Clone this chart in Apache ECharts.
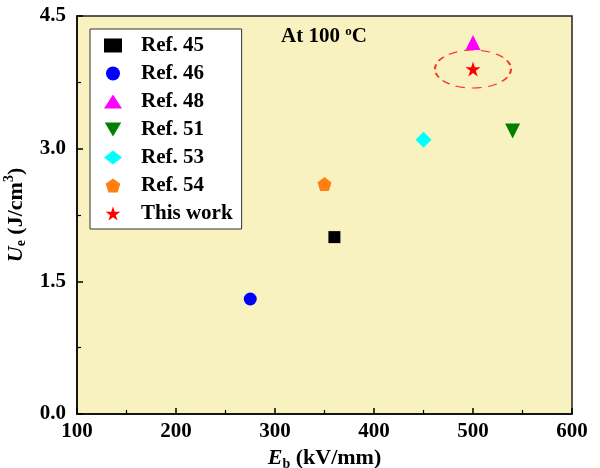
<!DOCTYPE html>
<html>
<head>
<meta charset="utf-8">
<script src="https://cdn.jsdelivr.net/npm/echarts@6/dist/echarts.min.js"></script>
<style>
  html, body { margin: 0; padding: 0; background: #ffffff; }
  #chart { width: 600px; height: 468px; }
</style>
</head>
<body>
<div id="chart"></div>
<script>
// Breakdown strength (kV/mm) vs. recoverable energy density (J/cm3) at 100 °C
const seriesNames = ['Ref. 45', 'Ref. 46', 'Ref. 48', 'Ref. 51', 'Ref. 53', 'Ref. 54', 'This work'];
const breakdownField = [360, 275, 500, 540, 450, 350, 500];   // E_b, kV/mm
const energyDensity  = [2.0, 1.3, 4.2, 3.2, 3.1, 2.6, 3.9];    // U_e, J/cm3
const yTicks = [0, 1.5, 3.0, 4.5];
const xTicks = [100, 200, 300, 400, 500, 600];

const SERIF = '"Liberation Serif", "Times New Roman", serif';

const markers = [
  { symbol: 'rect', size: 12, color: '#000000' },
  { symbol: 'circle', size: 13, color: '#0000ff' },
  { symbol: 'triangle', size: 15, color: '#ff00ff' },
  { symbol: 'path://M-10,-8 L10,-8 L0,9 Z', size: 15, color: '#008000' },
  { symbol: 'diamond', size: 16, color: '#00ffff' },
  { symbol: 'path://M0,-10 L9.51,-3.09 L5.88,8.09 L-5.88,8.09 L-9.51,-3.09 Z', size: 14, color: '#ff8011' },
  { symbol: 'path://M0,-10 L2.245,-3.09 L9.511,-3.09 L3.633,1.18 L5.878,8.09 L0,3.82 L-5.878,8.09 L-3.633,1.18 L-9.511,-3.09 L-2.245,-3.09 Z', size: 15, color: '#ff0000' }
];

const series = seriesNames.map((name, i) => ({
  name: name,
  type: 'scatter',
  symbol: markers[i].symbol,
  symbolSize: markers[i].size,
  itemStyle: { color: markers[i].color, opacity: 1 },
  data: [[breakdownField[i], energyDensity[i]]],
  z: 3
}));

// dashed ellipse around "This work"
const hi = seriesNames.indexOf('This work');
series.push({
  name: 'highlight',
  type: 'scatter',
  symbol: 'circle',
  symbolSize: [76, 38],
  silent: true,
  itemStyle: {
    color: 'transparent',
    borderColor: '#ff0000',
    borderWidth: 1.5,
    borderType: [7, 5]
  },
  data: [[breakdownField[hi], energyDensity[hi]]],
  z: 2
});

const chart = echarts.init(document.getElementById('chart'), null, { renderer: 'canvas' });

const nameRich = {
  i: { fontFamily: SERIF, fontWeight: 'bold', fontStyle: 'italic', fontSize: 22, color: '#000', lineHeight: 26 },
  sub: { fontFamily: SERIF, fontWeight: 'bold', fontSize: 14, color: '#000', lineHeight: 26, verticalAlign: 'bottom' },
  sup: { fontFamily: SERIF, fontWeight: 'bold', fontSize: 14, color: '#000', lineHeight: 26, verticalAlign: 'top' },
  n: { fontFamily: SERIF, fontWeight: 'bold', fontSize: 22, color: '#000', lineHeight: 26 }
};

chart.setOption({
  animation: false,
  backgroundColor: '#ffffff',
  grid: {
    left: 77, right: 28, top: 16, bottom: 54,
    containLabel: false,
    outerBoundsMode: 'none',
    show: true,
    backgroundColor: '#f7f2c0',
    borderColor: '#222222',
    borderWidth: 1.5
  },
  legend: {
    data: seriesNames,
    orient: 'vertical',
    left: 90,
    top: 29,
    padding: [6, 9, 5, 14],
    itemWidth: 18,
    itemHeight: 14,
    itemGap: 7,
    backgroundColor: '#ffffff',
    borderColor: '#333333',
    borderWidth: 1,
    borderRadius: 0,
    textStyle: {
      fontFamily: SERIF, fontWeight: 'bold', fontSize: 21, color: '#000000',
      padding: [0, 0, 0, 14]
    }
  },
  xAxis: {
    type: 'value',
    min: 100, max: 600, interval: 100,
    name: '{i|E}{sub|b}{n| (kV/mm)}',
    nameLocation: 'middle',
    nameGap: 22,
    nameTextStyle: { rich: nameRich },
    axisLine: { show: true, onZero: false, lineStyle: { color: '#000', width: 1.5 } },
    axisTick: { show: true, inside: true, length: 6, lineStyle: { color: '#000', width: 1.5 } },
    minorTick: { show: true, splitNumber: 2, length: 4, lineStyle: { color: '#000', width: 1.2 } },
    splitLine: { show: false },
    axisLabel: {
      margin: 7,
      fontFamily: SERIF, fontWeight: 'bold', fontSize: 21, color: '#000',
      formatter: v => xTicks.includes(v) ? String(v) : ''
    }
  },
  yAxis: {
    type: 'value',
    min: 0, max: 4.5, interval: 1.5,
    name: '{i|U}{sub|e}{n| (J/cm}{sup|3}{n|)}',
    nameLocation: 'middle',
    nameGap: 38,
    nameTextStyle: { rich: nameRich },
    axisLine: { show: true, onZero: false, lineStyle: { color: '#000', width: 1.5 } },
    axisTick: { show: true, inside: true, length: 6, lineStyle: { color: '#000', width: 1.5 } },
    minorTick: { show: true, splitNumber: 2, length: 4, lineStyle: { color: '#000', width: 1.2 } },
    splitLine: { show: false },
    axisLabel: {
      margin: 11,
      fontFamily: SERIF, fontWeight: 'bold', fontSize: 21, color: '#000',
      formatter: v => yTicks.some(t => Math.abs(t - v) < 1e-9) ? v.toFixed(1) : ''
    }
  },
  graphic: [{
    type: 'text',
    left: 281,
    top: 25,
    style: {
      text: '{n|At 100 }{sup|o}{n|C}',
      rich: {
        n: { fontFamily: SERIF, fontWeight: 'bold', fontSize: 21, fill: '#000', lineHeight: 24 },
        sup: { fontFamily: SERIF, fontWeight: 'bold', fontSize: 13, fill: '#000', lineHeight: 24, verticalAlign: 'top' }
      }
    },
    z: 10
  }],
  series: series
});
</script>
</body>
</html>
